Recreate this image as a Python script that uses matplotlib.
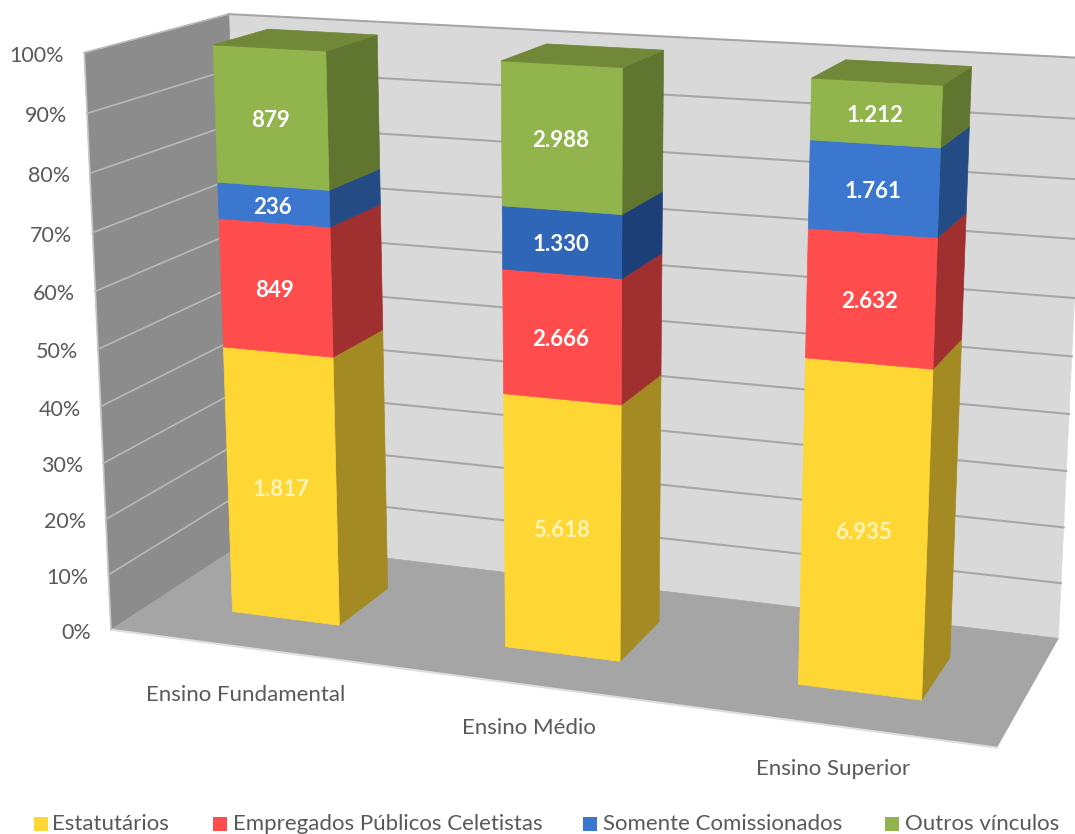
import numpy as np
import matplotlib
matplotlib.use("Agg")
import matplotlib.pyplot as plt
from matplotlib.patches import Polygon, Rectangle

plt.rcParams["font.family"] = ["Lato", "DejaVu Sans"]

categories = ["Ensino Fundamental", "Ensino Médio", "Ensino Superior"]
series_names = ["Estatutários", "Empregados Públicos Celetistas", "Somente Comissionados", "Outros vínculos"]
estatutarios = [1817, 5618, 6935]
celetistas = [849, 2666, 2632]
comissionados = [236, 1330, 1761]
outros = [879, 2988, 1212]
percent_ticks = [0, 10, 20, 30, 40, 50, 60, 70, 80, 90, 100]

front_cols = ["#FFD735", "#FF4D4D", "#3B76CF", "#91B44C"]
side_cols = ["#A38A23", "#A03030", "#254B85", "#5F7530"]
label_cols = ["#FFF4B8", "white", "white", "white"]
top_col = "#708838"
# the blue segment of the middle bar is a darker shade
mid_blue_front = "#2F66B8"
mid_blue_side = "#1C3F78"
bar_w = 0.4
depth = (0.3, 0.7)
legend_x = [34, 213, 583, 885]
legend_text_x = [52, 233, 603, 905]
cat_offsets = [(0, 47), (-1, 43), (-2, 43)]

# frame corners: (category, depth, share) -> pixel, fitted to one projective camera
box = [(0, 0, 0), (0, 0, 1), (0, 1, 0), (0, 1, 1), (3, 1, 0), (3, 1, 1), (3, 0, 0)]
pix = [(110, 630), (85, 53), (247, 541), (228, 14), (1058, 639), (1086, 58), (997, 747)]

rows = []
for (x, y, z), (u, v) in zip(box, pix):
    rows.append([x, y, z, 1, 0, 0, 0, 0, -u * x, -u * y, -u * z, -u])
    rows.append([0, 0, 0, 0, x, y, z, 1, -v * x, -v * y, -v * z, -v])
P = np.linalg.svd(np.array(rows, float))[2][-1].reshape(3, 4)


def proj(x, y, z):
    h = P @ np.array([x, y, z, 1.0])
    return h[0] / h[2], h[1] / h[2]


fig = plt.figure(figsize=(10.75, 8.34), dpi=100)
ax = fig.add_axes([0, 0, 1, 1])
ax.set_xlim(0, 1075)
ax.set_ylim(834, 0)
ax.axis("off")


def face(pts, color, z=1):
    ax.add_patch(Polygon([proj(*p) for p in pts], closed=True, fc=color, ec=color, lw=0.5, zorder=z))


def edge(p, q, color, lw):
    a, b = proj(*p), proj(*q)
    ax.plot([a[0], b[0]], [a[1], b[1]], color=color, lw=lw, zorder=2)


# walls and floor
face([(0, 1, 0), (3, 1, 0), (3, 1, 1), (0, 1, 1)], "#D9D9D9")
face([(0, 0, 0), (0, 1, 0), (0, 1, 1), (0, 0, 1)], "#8C8C8C")
face([(0, 0, 0), (3, 0, 0), (3, 1, 0), (0, 1, 0)], "#A5A5A5")
edge((0, 0, 0), (3, 0, 0), "#DEDEDE", 1.5)
edge((0, 0, 0), (0, 0, 1), "#C8C8C8", 1.2)

for t in percent_ticks:
    s = t / 100
    u, v = proj(0, 0, s)
    ax.text(u - 20, v + 3, f"{t}%", ha="right", va="center", fontsize=15.5, color="#595959")
    if t == 0:
        continue
    edge((0, 0, s), (0, 1, s), "#B8B8B8", 1.2)
    edge((0, 1, s), (3, 1, s), "#A6A6A6", 1.5)

# stacked bars, shares of each category total
stack = np.array([estatutarios, celetistas, comissionados, outros], float)
shares = stack / stack.sum(axis=0)
tops = np.cumsum(shares, axis=0)
for i in range(len(categories)):
    x0, x1 = i + 0.5 - bar_w / 2, i + 0.5 + bar_w / 2
    y0, y1 = depth
    z0 = 0.0
    for j in range(len(series_names)):
        z1 = tops[j, i]
        fc, sc = front_cols[j], side_cols[j]
        if i == 1 and j == 2:
            fc, sc = mid_blue_front, mid_blue_side
        face([(x1, y0, z0), (x1, y1, z0), (x1, y1, z1), (x1, y0, z1)], sc, 3)
        face([(x0, y0, z0), (x1, y0, z0), (x1, y0, z1), (x0, y0, z1)], fc, 3)
        u, v = proj(i + 0.5, y0, (z0 + z1) / 2)
        ax.text(u - 1, v + 2.5, f"{stack[j, i]:,.0f}".replace(",", "."), ha="center", va="center",
                fontsize=16, fontweight="bold", color=label_cols[j], zorder=4)
        z0 = z1
    face([(x0, y0, 1), (x1, y0, 1), (x1, y1, 1), (x0, y1, 1)], top_col, 3)
    u, v = proj(i + 0.5, 0, 0)
    ax.text(u + cat_offsets[i][0], v + cat_offsets[i][1], categories[i], ha="center", va="center",
            fontsize=16, color="#595959")

for x, tx, name, col in zip(legend_x, legend_text_x, series_names, front_cols):
    ax.add_patch(Rectangle((x, 817), 14, 14, fc=col, ec="none"))
    ax.text(tx, 824, name, ha="left", va="center", fontsize=16, color="#595959")

fig.savefig("out.png", dpi=100)
